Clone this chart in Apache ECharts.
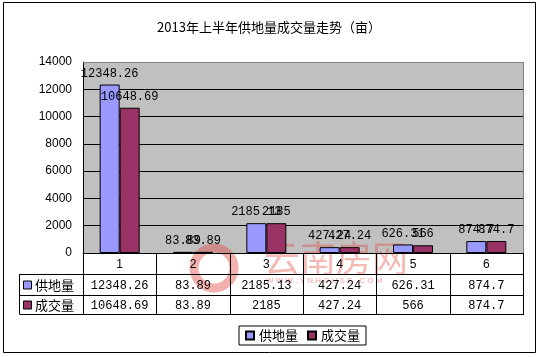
<!DOCTYPE html>
<html><head><meta charset="utf-8">
<script src="https://cdn.jsdelivr.net/npm/echarts@6/dist/echarts.min.js"></script>
<style>html,body{margin:0;padding:0;background:#fff}#c{width:538px;height:357px}</style>
</head><body><div id="c"></div>
<script>
var categories = ['1','2','3','4','5','6'];
var supplyName = '供地量';
var dealName = '成交量';
var supply = [12348.26, 83.89, 2185.13, 427.24, 626.31, 874.7];
var deal = [10648.69, 83.89, 2185, 427.24, 566, 874.7];
var yTicks = [0, 2000, 4000, 6000, 8000, 10000, 12000, 14000];

var GL = 83, GT = 62, GW = 440, GH = 191;
var colW = GW / categories.length;
var rowY = [GT + GH, GT + GH + 21, GT + GH + 42, GT + GH + 61];
var tableLeft = 19.5;
var colors = ['#9999FF', '#993366'];
var mono = '"Liberation Mono","DejaVu Sans Mono",monospace';
var cjk = '"Noto Sans CJK SC","Noto Sans",sans-serif';

var g = [];
function line(x1,y1,x2,y2,c){g.push({type:'line',silent:true,shape:{x1:x1,y1:y1,x2:x2,y2:y2},style:{stroke:c||'#000',lineWidth:1},z:5});}
function txt(x,y,t,font,align){g.push({type:'text',silent:true,x:x,y:y,style:{text:t,font:font,fill:'#000',align:align||'center',verticalAlign:'middle'},z:6});}

// outer chart border
g.push({type:'rect',silent:true,shape:{x:3.5,y:2.5,width:532,height:350},style:{fill:'none',stroke:'#000',lineWidth:1},z:1});
// plot border (top/right gray)
line(GL, GT+0.5, GL+GW+0.5, GT+0.5, '#808080');
line(GL+GW+0.5, GT, GL+GW+0.5, GT+GH, '#808080');

// table lines
for (var i = 0; i <= categories.length; i++) {
  var x = Math.round(GL + i*colW) + 0.5;
  line(x, rowY[0], x, rowY[3]);
}
line(tableLeft, rowY[1], tableLeft, rowY[3]);
for (var r = 1; r <= 3; r++) line(tableLeft, rowY[r]+0.5, GL+GW+1, rowY[r]+0.5);

// table text
var series = [[supplyName, supply], [dealName, deal]];
categories.forEach(function(c, i){
  var cx = GL + (i+0.5)*colW;
  txt(cx, (rowY[0]+rowY[1])/2 + 1, c, '12px "Liberation Sans",Arial,sans-serif');
  series.forEach(function(s, k){
    txt(cx, (rowY[k+1]+rowY[k+2])/2 + 1, String(s[1][i]), '12px ' + mono);
  });
});
series.forEach(function(s, k){
  var cy = (rowY[k+1]+rowY[k+2])/2 + 1;
  g.push({type:'rect',silent:true,shape:{x:23.5,y:cy-4.5,width:8,height:8},style:{fill:colors[k],stroke:'#000',lineWidth:1},z:6});
  txt(35, cy, s[0], '13px ' + cjk, 'left');
});

// watermark
var wm = {type:'group',silent:true,z:20,children:[
  {type:'circle',shape:{cx:214,cy:268,r:20},style:{fill:'none',stroke:'rgba(225,70,60,0.42)',lineWidth:9}},
  {type:'text',x:264,y:258,style:{text:'云南房网',font:'36px ' + cjk,fill:'rgba(225,70,60,0.38)',verticalAlign:'middle'}},
  {type:'text',x:266,y:281,style:{text:'W W W . Y N H O U S E . C O M',font:'bold 8px "Liberation Sans",sans-serif',fill:'rgba(225,70,60,0.35)',verticalAlign:'middle'}}
]};
g.push(wm);

var chart = echarts.init(document.getElementById('c'), null, {renderer:'canvas'});
chart.setOption({
  animation: false,
  backgroundColor: '#fff',
  title: {text: '2013年上半年供地量成交量走势（亩）', left: 'center', top: 16,
    textStyle: {fontSize: 13, fontWeight: 'normal', color: '#000', fontFamily: cjk}},
  legend: {data: [supplyName, dealName], left: 239, top: 326, icon: 'rect', itemWidth: 8, itemHeight: 8, itemGap: 9,
    borderColor: '#000', borderWidth: 1, padding: [3, 6], borderRadius: 0,
    textStyle: {fontSize: 13, color: '#000', fontFamily: cjk}},
  grid: {left: GL, top: GT, width: GW, height: GH, show: true, backgroundColor: '#C0C0C0', borderWidth: 0},
  xAxis: {type: 'category', data: categories, axisLine: {lineStyle: {color: '#000'}}, axisTick: {show: false}, axisLabel: {show: false}},
  yAxis: {type: 'value', min: yTicks[0], max: yTicks[yTicks.length-1], interval: yTicks[1]-yTicks[0],
    axisLine: {show: true, lineStyle: {color: '#000'}}, axisTick: {show: false},
    axisLabel: {fontSize: 12, color: '#000', margin: 11, fontFamily: '"Liberation Sans",Arial,sans-serif',
      formatter: function(v){ return String(v); }},
    splitLine: {lineStyle: {color: ['#000','#000','#000','#000','#000','#000','#000','#808080'], width: 1}}},
  series: [
    {name: supplyName, type: 'bar', data: supply, barWidth: 20, barGap: '0%',
      itemStyle: {color: colors[0], borderColor: '#000', borderWidth: 1},
      label: {show: true, position: 'top', distance: 5, color: '#000', fontSize: 12, fontFamily: mono}},
    {name: dealName, type: 'bar', data: deal, barWidth: 20, barGap: '0%',
      itemStyle: {color: colors[1], borderColor: '#000', borderWidth: 1},
      label: {show: true, position: 'top', distance: 5, color: '#000', fontSize: 12, fontFamily: mono}}
  ],
  graphic: g
});
</script></body></html>
